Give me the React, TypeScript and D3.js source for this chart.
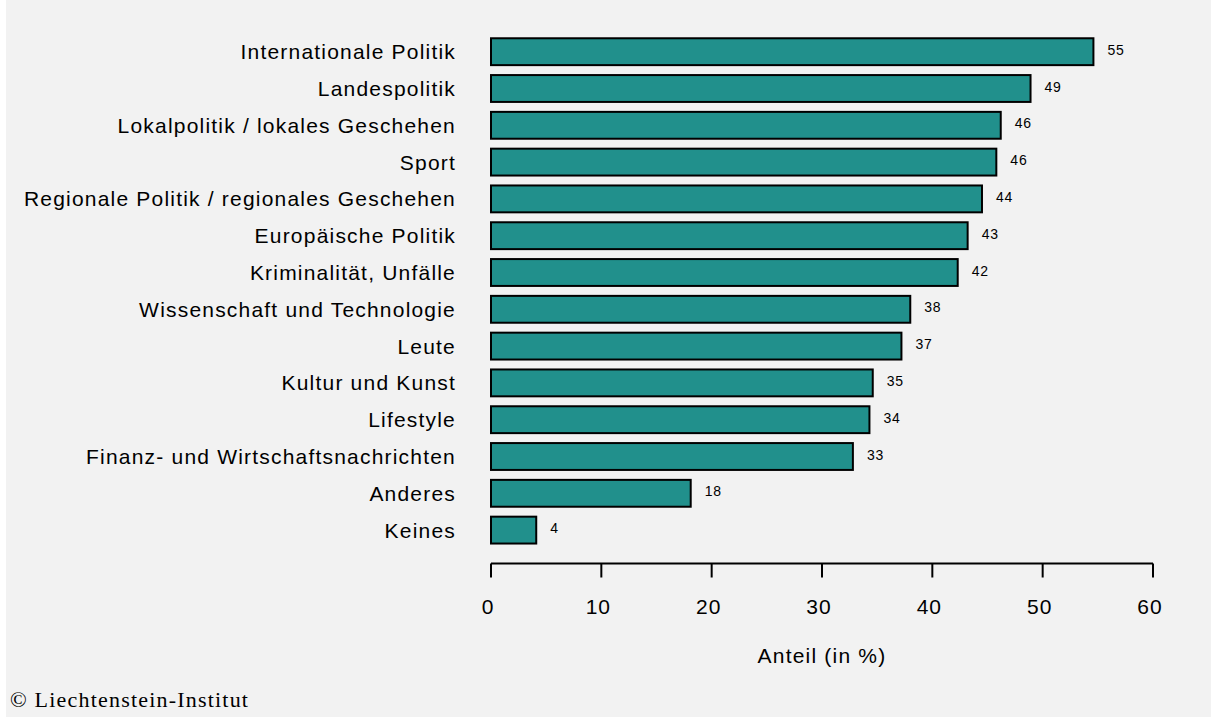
import React from "react";
import * as d3 from "d3";

const categories = [
  "Internationale Politik",
  "Landespolitik",
  "Lokalpolitik / lokales Geschehen",
  "Sport",
  "Regionale Politik / regionales Geschehen",
  "Europäische Politik",
  "Kriminalität, Unfälle",
  "Wissenschaft und Technologie",
  "Leute",
  "Kultur und Kunst",
  "Lifestyle",
  "Finanz- und Wirtschaftsnachrichten",
  "Anderes",
  "Keines",
];
const values = [54.6, 48.9, 46.2, 45.8, 44.5, 43.2, 42.3, 38.0, 37.2, 34.6, 34.3, 32.8, 18.1, 4.1];
const valueLabels = ["55", "49", "46", "46", "44", "43", "42", "38", "37", "35", "34", "33", "18", "4"];
const xTicks = [0, 10, 20, 30, 40, 50, 60];
const xTitle = "Anteil (in %)";
const credit = "© Liechtenstein-Institut";

export default function App() {
  const W = 1205;
  const H = 717;
  const ox = 6;
  const x = d3.scaleLinear().domain([0, 60]).range([491 - ox, 1153 - ox]);
  const step = 36.8;
  const y = d3
    .scaleBand<string>()
    .domain(categories)
    .range([51.7 - step / 2, 51.7 - step / 2 + step * categories.length])
    .paddingInner(0.27)
    .paddingOuter(0.135);
  const font = "'Liberation Sans', Arial, sans-serif";
  const axisY = 563.5;
  return (
    <svg
      width={W}
      height={H}
      style={{ position: "absolute", left: ox, top: 0, display: "block" }}
    >
      <rect x={0} y={0} width={W} height={H} fill="#f2f2f2" />
      {categories.map((c, i) => {
        const yc = (y(c) as number) + y.bandwidth() / 2;
        return (
          <g key={c}>
            <rect
              x={x(0)}
              y={y(c)}
              width={x(values[i]) - x(0)}
              height={y.bandwidth()}
              fill="#21908C"
              stroke="#000"
              strokeWidth={2}
            />
            <text
              x={456 - ox}
              y={yc}
              dy="0.36em"
              textAnchor="end"
              fontFamily={font}
              fontSize={21}
              letterSpacing={1.2}
              fill="#000"
            >
              {c}
            </text>
            <text
              x={x(values[i]) + 14}
              y={yc - 2}
              dy="0.36em"
              textAnchor="start"
              fontFamily={font}
              fontSize={14}
              letterSpacing={0.8}
              fill="#000"
            >
              {valueLabels[i]}
            </text>
          </g>
        );
      })}
      <line x1={x(0)} x2={x(60)} y1={axisY} y2={axisY} stroke="#000" strokeWidth={2} />
      {xTicks.map((t) => (
        <g key={t}>
          <line x1={x(t)} x2={x(t)} y1={axisY} y2={axisY + 14} stroke="#000" strokeWidth={2} />
          <text
            x={x(t) - 3}
            y={606}
            dy="0.36em"
            textAnchor="middle"
            fontFamily={font}
            fontSize={21}
            letterSpacing={1}
            fill="#000"
          >
            {t}
          </text>
        </g>
      ))}
      <text
        x={(x(0) + x(60)) / 2}
        y={655}
        dy="0.36em"
        textAnchor="middle"
        fontFamily={font}
        fontSize={21}
        letterSpacing={1.2}
        fill="#000"
      >
        {xTitle}
      </text>
      <text
        x={10 - ox}
        y={707}
        textAnchor="start"
        fontFamily="'Liberation Serif', 'DejaVu Serif', serif"
        fontSize={22}
        letterSpacing={1.2}
        fill="#000"
      >
        {credit}
      </text>
    </svg>
  );
}
